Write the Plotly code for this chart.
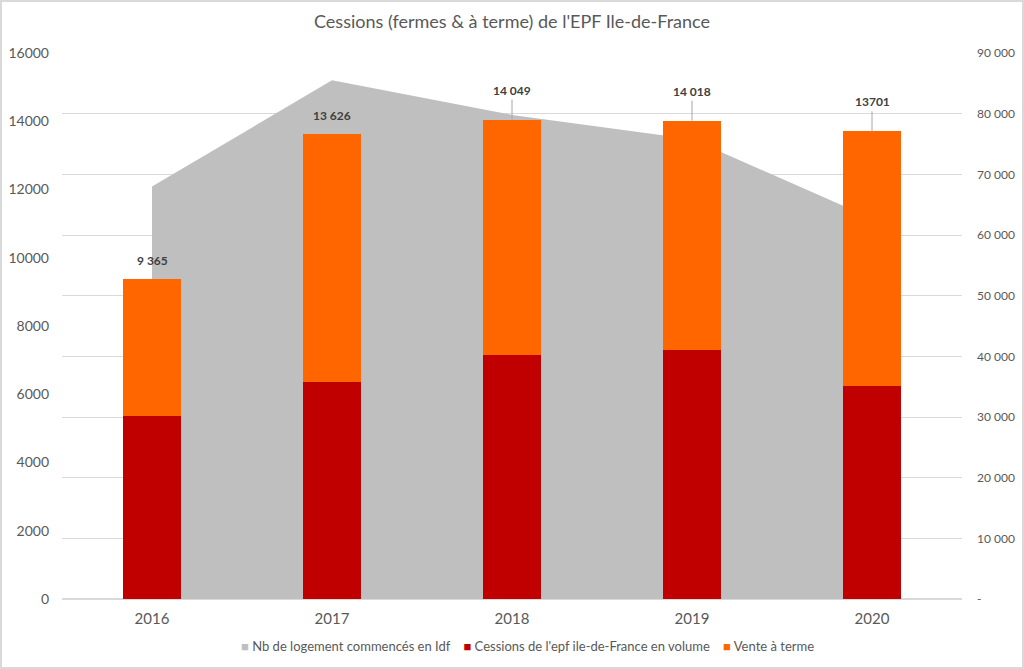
import plotly.graph_objects as go

years = ["2016", "2017", "2018", "2019", "2020"]
logements = [68000, 85500, 79800, 75800, 62700]
cessions_volume = [5360, 6360, 7150, 7300, 6240]
totaux = [9365, 13626, 14049, 14018, 13701]
total_labels = ["9 365", "13 626", "14 049", "14 018", "13701"]
leader = [False, False, True, True, True]
vente_terme = [t - c for t, c in zip(totaux, cessions_volume)]

left_ticks = [0, 2000, 4000, 6000, 8000, 10000, 12000, 14000, 16000]
right_ticks = [0, 10000, 20000, 30000, 40000, 50000, 60000, 70000, 80000, 90000]
right_ticktext = ["-", "10 000", "20 000", "30 000", "40 000", "50 000", "60 000", "70 000", "80 000", "90 000"]

series_names = ["Nb de logement commencés en Idf",
                "Cessions de l'epf ile-de-France en volume",
                "Vente à terme"]
series_colors = ["#bfbfbf", "#c00000", "#ff6600"]

FONT = "Lato"
TXT = "#595959"

fig = go.Figure()
fig.add_trace(go.Scatter(
    x=years, y=logements, name=series_names[0],
    fill="tozeroy", mode="lines", line=dict(width=0, color=series_colors[0]),
    fillcolor=series_colors[0], xaxis="x", yaxis="y", hoverinfo="skip",
))
fig.add_trace(go.Bar(
    x=years, y=cessions_volume, name=series_names[1],
    marker=dict(color=series_colors[1], line=dict(width=0)), xaxis="x", yaxis="y2",
))
fig.add_trace(go.Bar(
    x=years, y=vente_terme, name=series_names[2],
    marker=dict(color=series_colors[2], line=dict(width=0)), xaxis="x", yaxis="y2",
))

annotations = []
for i, (tot, lab, ld) in enumerate(zip(totaux, total_labels, leader)):
    if ld:
        annotations.append(dict(
            x=i, y=tot, xref="x", yref="y2", text="<b>" + lab + "</b>",
            showarrow=True, arrowhead=0, arrowwidth=1, arrowcolor="#a6a6a6",
            ax=0, ay=-20, standoff=0, font=dict(family=FONT, size=12, color="#404040"),
            yanchor="bottom",
        ))
    else:
        annotations.append(dict(
            x=i, y=tot, xref="x", yref="y2", text="<b>" + lab + "</b>",
            showarrow=False, yshift=19, font=dict(family=FONT, size=12, color="#404040"),
        ))

legend_html = "    ".join(
    '<span style="color:%s">■</span> %s' % (c, n) for c, n in zip(series_colors, series_names)
)
annotations.append(dict(
    x=(527 - 62) / 900, y=-47 / 546, xref="paper", yref="paper", xanchor="center", yanchor="middle",
    text=legend_html, showarrow=False, font=dict(family=FONT, size=13, color=TXT),
))

fig.update_layout(
    width=1024, height=669,
    margin=dict(l=62, r=62, t=53, b=70, autoexpand=False),
    paper_bgcolor="white", plot_bgcolor="white",
    showlegend=False,
    title=dict(text="Cessions (fermes & à terme) de l'EPF Ile-de-France",
               x=0.5, xanchor="center", y=1 - 22 / 669, yanchor="middle",
               font=dict(family=FONT, size=18, color=TXT)),
    barmode="stack", bargap=0.683,
    xaxis=dict(type="category", categoryorder="array", categoryarray=years,
               range=[-0.5, 4.5], showgrid=False, showline=False, ticks="",
               automargin=False, ticklabelstandoff=9,
               tickfont=dict(family=FONT, size=15, color=TXT)),
    yaxis=dict(side="right", range=[0, 90000], tickvals=right_ticks, ticktext=right_ticktext,
               showgrid=True, gridcolor="#d9d9d9", zeroline=False, showline=False,
               automargin=False, ticklabelstandoff=14,
               tickfont=dict(family=FONT, size=12, color=TXT)),
    yaxis2=dict(side="left", overlaying="y", anchor="x", range=[0, 16000], tickvals=left_ticks,
                tickformat="d", showgrid=False, zeroline=True, zerolinecolor="#d9d9d9",
                automargin=False, showline=False, ticklabelstandoff=12,
                tickfont=dict(family=FONT, size=14, color=TXT)),
    annotations=annotations,
    shapes=[dict(type="rect", xref="paper", yref="paper",
                 x0=-61 / 900, x1=1 + 61 / 900, y0=-69 / 546, y1=1 + 52 / 546,
                 line=dict(color="#d9d9d9", width=2), fillcolor="rgba(0,0,0,0)", layer="above")],
)

fig.write_html("out.html", config={"displayModeBar": False},
               post_script="document.body.style.margin='0px';document.body.style.overflow='hidden';")
